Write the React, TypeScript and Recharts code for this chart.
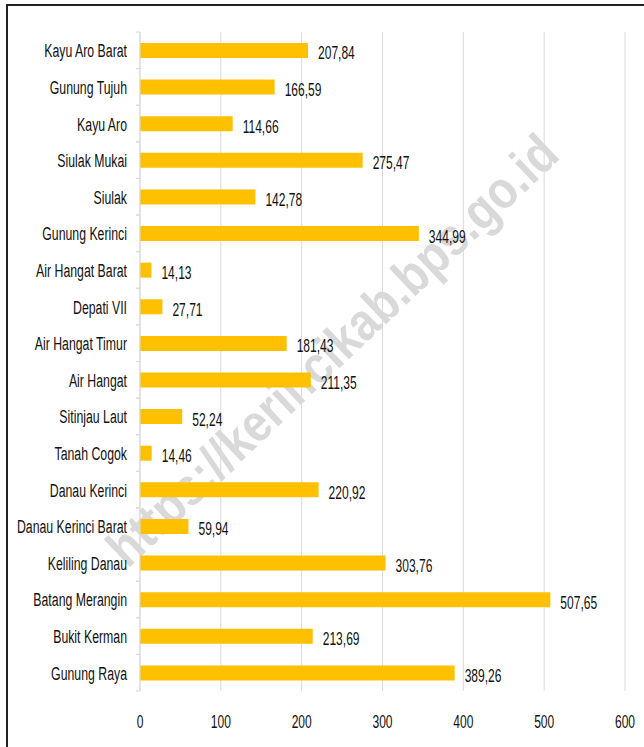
import React from "react";
import { BarChart, Bar, XAxis, YAxis, CartesianGrid, LabelList } from "recharts";

const categories: string[] = [
  "Kayu Aro Barat",
  "Gunung Tujuh",
  "Kayu Aro",
  "Siulak Mukai",
  "Siulak",
  "Gunung Kerinci",
  "Air Hangat Barat",
  "Depati VII",
  "Air Hangat Timur",
  "Air Hangat",
  "Sitinjau Laut",
  "Tanah Cogok",
  "Danau Kerinci",
  "Danau Kerinci Barat",
  "Keliling Danau",
  "Batang Merangin",
  "Bukit Kerman",
  "Gunung Raya",
];

const values: number[] = [
  207.84, 166.59, 114.66, 275.47, 142.78, 344.99, 14.13, 27.71, 181.43,
  211.35, 52.24, 14.46, 220.92, 59.94, 303.76, 507.65, 213.69, 389.26,
];

const xTicks: number[] = [0, 100, 200, 300, 400, 500, 600];

const watermark = "https://kerincikab.bps.go.id";

const data = categories.map((name, i) => ({ name, value: values[i] }));

const W = 644;
const H = 747;
const MARGIN = { top: 32, right: 19, left: 0, bottom: 16 };
const XAXIS_H = 40;
const FONT = "'Liberation Sans', Arial, sans-serif";
const plotH = H - MARGIN.top - MARGIN.bottom - XAXIS_H;
const band = plotH / categories.length;

const fmt = (v: number) => v.toFixed(2).replace(".", ",");

const YTick = (props: any) => {
  const { x, y, payload } = props;
  return (
    <g>
      <line x1={x - 4} x2={x} y1={y - band / 2} y2={y - band / 2} stroke="#d9d9d9" />
      <line x1={x - 4} x2={x} y1={y + band / 2} y2={y + band / 2} stroke="#d9d9d9" />
      <g transform={`translate(${x - 13},${y}) scale(0.82,1.21)`}>
        <text x={0} y={5.8} textAnchor="end" fontSize={15} fontFamily={FONT} fill="#111">
          {payload.value}
        </text>
      </g>
    </g>
  );
};

const XTick = (props: any) => {
  const { x, y, payload } = props;
  return (
    <g transform={`translate(${x},${y + 37}) scale(0.86,1.3)`}>
      <text x={0} y={0} textAnchor="middle" fontSize={14} fontFamily={FONT} fill="#111">
        {payload.value}
      </text>
    </g>
  );
};

const ValueLabel = (props: any) => {
  const { x, y, width, height, value } = props;
  const lx = Number(x) + Number(width) + 10;
  const cy = Number(y) + Number(height) / 2;
  return (
    <g transform={`translate(${lx},${cy}) scale(0.86,1.3)`}>
      <text x={0} y={6.9} textAnchor="start" fontSize={14} fontFamily={FONT} fill="#111">
        {fmt(Number(value))}
      </text>
    </g>
  );
};

export default function App() {
  return (
    <div
      style={{
        position: "absolute",
        left: 0,
        top: 0,
        width: W,
        height: H,
        overflow: "hidden",
        background: "#ffffff",
      }}
    >
      <div
        style={{
          position: "absolute",
          left: 6,
          top: 4,
          width: 800,
          height: 900,
          border: "2px solid #222",
          boxSizing: "border-box",
        }}
      />
      <div
        style={{
          position: "absolute",
          left: 332,
          top: 350,
          transform: "translate(-50%, -50%) rotate(-43.5deg) scale(1,1.15)",
          fontFamily: "'Liberation Sans', sans-serif",
          fontWeight: "bold",
          fontSize: 46,
          color: "#d9d9d9",
          whiteSpace: "nowrap",
        }}
      >
        {watermark}
      </div>
      <div style={{ position: "absolute", left: 0, top: 0 }}>
        <BarChart width={W} height={H} data={data} layout="vertical" margin={MARGIN}>
          <CartesianGrid horizontal={false} stroke="#d9d9d9" />
          <XAxis
            type="number"
            domain={[0, 600]}
            ticks={xTicks}
            axisLine={false}
            tickLine={false}
            tickSize={0}
            tickMargin={0}
            height={XAXIS_H}
            tick={<XTick />}
            interval={0}
          />
          <YAxis
            type="category"
            dataKey="name"
            width={140}
            axisLine={{ stroke: "#d9d9d9" }}
            tickLine={false}
            tickSize={0}
            tickMargin={0}
            tick={<YTick />}
            interval={0}
          />
          <Bar dataKey="value" fill="#FFC000" barSize={15} isAnimationActive={false}>
            <LabelList dataKey="value" content={<ValueLabel />} />
          </Bar>
        </BarChart>
      </div>
    </div>
  );
}
